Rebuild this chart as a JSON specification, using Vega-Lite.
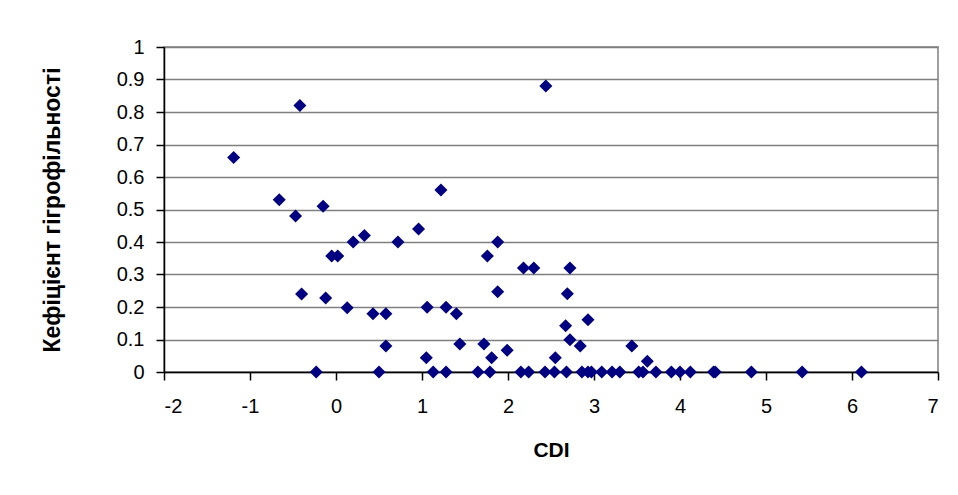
{
  "$schema": "https://vega.github.io/schema/vega-lite/v6.json",
  "autosize": {"type": "none"},
  "width": 774,
  "height": 325,
  "padding": {"left": 164, "top": 47, "right": 20, "bottom": 123},
  "background": "white",
  "config": {
    "view": {"stroke": "#808080", "strokeWidth": 1.5},
    "font": "Liberation Sans"
  },
  "data": {
    "values": [
      {"cdi": -1.19, "k": 0.66},
      {"cdi": -0.42, "k": 0.82},
      {"cdi": 2.44, "k": 0.88},
      {"cdi": -0.66, "k": 0.53},
      {"cdi": -0.47, "k": 0.48},
      {"cdi": -0.15, "k": 0.51},
      {"cdi": 1.22, "k": 0.56},
      {"cdi": 0.96, "k": 0.44},
      {"cdi": 0.33, "k": 0.42},
      {"cdi": 0.2, "k": 0.4},
      {"cdi": 0.72, "k": 0.4},
      {"cdi": -0.05, "k": 0.357},
      {"cdi": 0.02, "k": 0.357},
      {"cdi": 1.88, "k": 0.4},
      {"cdi": 1.76, "k": 0.357},
      {"cdi": 2.18, "k": 0.32},
      {"cdi": 2.3, "k": 0.32},
      {"cdi": 2.72, "k": 0.32},
      {"cdi": -0.4, "k": 0.24},
      {"cdi": -0.12, "k": 0.228},
      {"cdi": 0.13, "k": 0.198},
      {"cdi": 0.43, "k": 0.179},
      {"cdi": 0.58, "k": 0.179},
      {"cdi": 0.58, "k": 0.08},
      {"cdi": 1.06, "k": 0.199},
      {"cdi": 1.28, "k": 0.199},
      {"cdi": 1.4, "k": 0.179},
      {"cdi": 1.44, "k": 0.086},
      {"cdi": 1.88, "k": 0.247},
      {"cdi": 2.69, "k": 0.241},
      {"cdi": 2.67, "k": 0.142},
      {"cdi": 2.93, "k": 0.161},
      {"cdi": 2.72, "k": 0.099},
      {"cdi": 2.84, "k": 0.08},
      {"cdi": 3.44, "k": 0.08},
      {"cdi": 3.62, "k": 0.033},
      {"cdi": 2.55, "k": 0.044},
      {"cdi": 1.05, "k": 0.044},
      {"cdi": 1.72, "k": 0.086},
      {"cdi": 1.81, "k": 0.044},
      {"cdi": 1.99, "k": 0.067},
      {"cdi": -0.23, "k": 0},
      {"cdi": 0.5, "k": 0},
      {"cdi": 1.13, "k": 0},
      {"cdi": 1.28, "k": 0},
      {"cdi": 1.65, "k": 0},
      {"cdi": 1.79, "k": 0},
      {"cdi": 2.15, "k": 0},
      {"cdi": 2.24, "k": 0},
      {"cdi": 2.43, "k": 0},
      {"cdi": 2.54, "k": 0},
      {"cdi": 2.68, "k": 0},
      {"cdi": 2.86, "k": 0},
      {"cdi": 2.93, "k": 0},
      {"cdi": 2.97, "k": 0},
      {"cdi": 3.09, "k": 0},
      {"cdi": 3.21, "k": 0},
      {"cdi": 3.3, "k": 0},
      {"cdi": 3.52, "k": 0},
      {"cdi": 3.57, "k": 0},
      {"cdi": 3.72, "k": 0},
      {"cdi": 3.9, "k": 0},
      {"cdi": 4.0, "k": 0},
      {"cdi": 4.12, "k": 0},
      {"cdi": 4.39, "k": 0},
      {"cdi": 4.41, "k": 0},
      {"cdi": 4.83, "k": 0},
      {"cdi": 5.42, "k": 0},
      {"cdi": 6.11, "k": 0}
    ]
  },
  "mark": {"type": "point", "shape": "diamond", "filled": true, "size": 170, "color": "#000080", "opacity": 1, "clip": false},
  "encoding": {
    "x": {
      "field": "cdi",
      "type": "quantitative",
      "scale": {"domain": [-2, 7], "nice": false, "zero": false},
      "axis": {
        "title": "CDI",
        "values": [-2, -1, 0, 1, 2, 3, 4, 5, 6, 7],
        "labelExpr": "'' + datum.value",
        "grid": false,
        "domainColor": "#000000",
        "domainWidth": 1.5,
        "tickColor": "#000000",
        "tickSize": 8,
        "tickWidth": 1.5,
        "labelFontSize": 20,
        "labelColor": "#000000",
        "labelPadding": 16,
        "titleFontSize": 21,
        "titleFontWeight": "bold",
        "titleColor": "#000000",
        "titlePadding": 23
      }
    },
    "y": {
      "field": "k",
      "type": "quantitative",
      "scale": {"domain": [0, 1], "nice": false},
      "axis": {
        "title": "Кефіцієнт гігрофільності",
        "values": [0, 0.1, 0.2, 0.3, 0.4, 0.5, 0.6, 0.7, 0.8, 0.9, 1],
        "format": ".1~f",
        "grid": true,
        "gridColor": "#808080",
        "gridWidth": 1.5,
        "domainColor": "#000000",
        "domainWidth": 1.5,
        "tickColor": "#000000",
        "tickSize": 8,
        "tickWidth": 1.5,
        "labelFontSize": 20,
        "labelColor": "#000000",
        "labelPadding": 12,
        "titleFontSize": 23,
        "titleFontWeight": "bold",
        "titleColor": "#000000",
        "titlePadding": 52
      }
    }
  }
}
